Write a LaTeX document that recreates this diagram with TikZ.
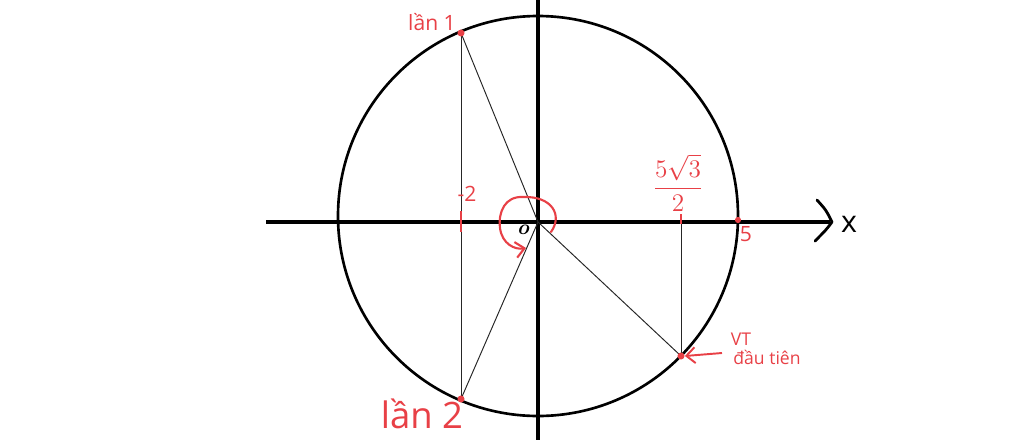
\documentclass[tikz,border=0pt]{standalone}
\usepackage{fontspec}
\newfontfamily\hand{Open Sans}
\usetikzlibrary{arrows.meta}
\definecolor{pen}{RGB}{232,64,70}
\tikzset{
  axis/.style={line width=2.4pt, black},
  circ/.style={line width=1.5pt, black},
  thin/.style={line width=0.55pt, black!85},
  redtxt/.style={text=pen, font=\hand, inner sep=0pt},
  dot/.style={circle, fill=pen, inner sep=0pt, minimum size=4pt},
  tick/.style={line width=1.3pt, pen}
}
\begin{document}
\begin{tikzpicture}[x=0.02cm,y=-0.02cm]
\useasboundingbox (0,0) rectangle (1024,440);
% axes
\coordinate (xl) at (266,222);
\coordinate (xr) at (830,222);
\coordinate (yt) at (538,0);
\coordinate (yb) at (538,440);
\coordinate (O) at (538,222);
\draw[axis] (xl) -- (xr);
\draw[axis] (yt) -- (yb);
\coordinate (a1) at (817,200);
\coordinate (a2) at (832,222);
\coordinate (a3) at (815,241);
\draw[line width=1.6pt, line cap=round, line join=round] (a1) .. controls (826,210) .. (a2) .. controls (826,230) .. (a3);
\node[font=\hand\LARGE, inner sep=0pt] (xlab) at (849,224) {x};
% circle
\coordinate (C) at (538,216);
\draw[circ] (C) circle [radius=200];
% points
\coordinate (P1) at (461,33);
\coordinate (P2) at (461,399);
\coordinate (VT) at (681,356);
\coordinate (F) at (681,222);
\coordinate (M) at (461,222);
\coordinate (R) at (738,220);
% thin lines
\draw[thin] (P1) -- (P2);
\draw[thin] (P1) -- (O);
\draw[thin] (O) -- (P2);
\draw[thin] (O) -- (VT);
\draw[thin] (VT) -- (F);
% ticks
\coordinate (m1) at (461,211);
\coordinate (m2) at (461,232);
\draw[tick] (m1) -- (m2);
\coordinate (f1) at (681,214);
\coordinate (f2) at (681,224);
\draw[tick] (f1) -- (f2);
% red dots
\node[dot] (d1) at (P1) {};
\node[dot] (d2) at (P2) {};
\node[dot] (d3) at (VT) {};
\node[dot, minimum size=3.5pt] (d4) at (R) {};
% labels
\node[redtxt, font=\hand\large] (l1) at (432,22) {lần 1};
\node[redtxt, font=\hand\huge] (l2) at (422,414) {lần 2};
\node[redtxt, font=\hand\large] (m2lab) at (467,194) {-2};
\node[redtxt, font=\Large] (frac) at (678,183) {$\displaystyle\frac{5\sqrt{3}}{2}$};
\node[redtxt, font=\hand\large] (five) at (746,234) {5};
\node[font=\bfseries\itshape\large, inner sep=0pt] (olab) at (523,230) {o};
\node[redtxt, font=\hand\normalsize] (vtl) at (741,339) {VT};
\node[redtxt, font=\hand\normalsize] (dtl) at (767,357) {đầu tiên};
\coordinate (ar1) at (722,353);
\draw[line width=1.1pt, pen, -{Straight Barb[length=5pt,width=9pt]}] (ar1) -- (d3.east);
% loop arrow
\coordinate (s0) at (551,232);
\coordinate (s1) at (523,197);
\coordinate (s2) at (500,228);
\coordinate (s3) at (526,248);
\draw[line width=1.2pt, pen, line cap=round, -{Straight Barb[length=5pt,width=9pt]}]
  (s0) .. controls (563,215) and (552,196) .. (s1)
       .. controls (505,196) and (498,212) .. (s2)
       .. controls (502,244) and (515,250) .. (s3);
\end{tikzpicture}
\end{document}
